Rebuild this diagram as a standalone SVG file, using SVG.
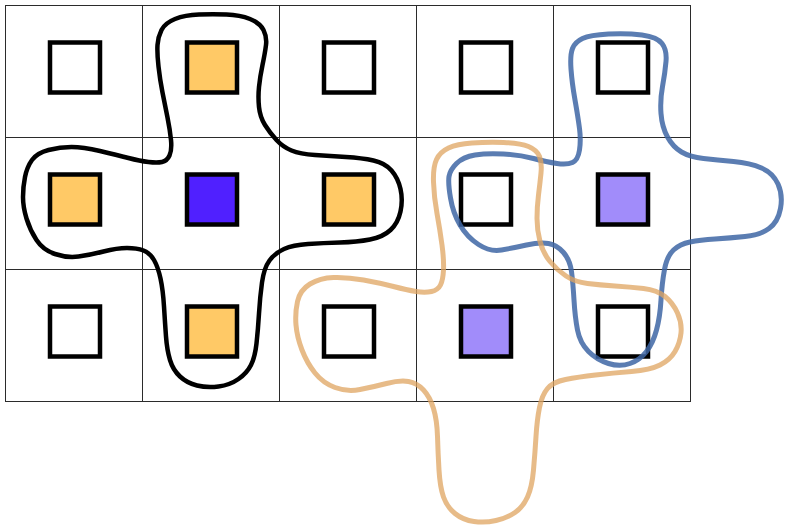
<svg xmlns="http://www.w3.org/2000/svg" width="786" height="527" viewBox="0 0 786 527">
<style>
.cell{fill:none;stroke:#2b2b2b;stroke-width:1}
.sq{stroke:#000;stroke-width:4.5}
.w{fill:#fff}.y{fill:#FFC966}.b{fill:#5020FF}.p{fill:#A18CFA}
.blob{fill:none;stroke-linejoin:round}
.k{stroke:#000;stroke-width:4.5}
.o{stroke:#DFA460;stroke-width:5;stroke-opacity:0.75}
.u{stroke:#3E66A4;stroke-width:5;stroke-opacity:0.85}
</style>
<rect width="786" height="527" fill="#fff"/>
<g id="grid">
<rect class="cell" x="5.5" y="5.5" width="685" height="396"/>
<line class="cell" x1="142.5" y1="5.5" x2="142.5" y2="401.5"/>
<line class="cell" x1="279.5" y1="5.5" x2="279.5" y2="401.5"/>
<line class="cell" x1="416.5" y1="5.5" x2="416.5" y2="401.5"/>
<line class="cell" x1="553.5" y1="5.5" x2="553.5" y2="401.5"/>
<line class="cell" x1="5.5" y1="137.5" x2="690.5" y2="137.5"/>
<line class="cell" x1="5.5" y1="269.5" x2="690.5" y2="269.5"/>
</g>
<g id="c00"><rect class="sq w" x="50" y="42.5" width="50" height="50"/></g>
<g id="c01"><rect class="sq y" x="187" y="42.5" width="50" height="50"/></g>
<g id="c02"><rect class="sq w" x="324" y="42.5" width="50" height="50"/></g>
<g id="c03"><rect class="sq w" x="461" y="42.5" width="50" height="50"/></g>
<g id="c04"><rect class="sq w" x="598" y="42.5" width="50" height="50"/></g>
<g id="c10"><rect class="sq y" x="50" y="174.5" width="50" height="50"/></g>
<g id="c11"><rect class="sq b" x="187" y="174.5" width="50" height="50"/></g>
<g id="c12"><rect class="sq y" x="324" y="174.5" width="50" height="50"/></g>
<g id="c13"><rect class="sq w" x="461" y="174.5" width="50" height="50"/></g>
<g id="c14"><rect class="sq p" x="598" y="174.5" width="50" height="50"/></g>
<g id="c20"><rect class="sq w" x="50" y="306.5" width="50" height="50"/></g>
<g id="c21"><rect class="sq y" x="187" y="306.5" width="50" height="50"/></g>
<g id="c22"><rect class="sq w" x="324" y="306.5" width="50" height="50"/></g>
<g id="c23"><rect class="sq p" x="461" y="306.5" width="50" height="50"/></g>
<g id="c24"><rect class="sq w" x="598" y="306.5" width="50" height="50"/></g>
<g id="connectors">
<path id="blobBlack" class="blob k" d="M199,14.5 Q213,14 226.5,14.5 Q240,15 250,19 Q260,23 263.5,30 Q267,37 266,45 Q265,53 262.5,65 Q260,77 259,87 Q258,97 259,107 Q260,117 265,125 Q270,133 276.5,140 Q283,147 291.5,150.5 Q300,154 315,155 Q330,156 346,157 Q362,158 373.5,160.5 Q385,163 391.5,170.5 Q398,178 400.5,189 Q403,200 400.5,211.5 Q398,223 390.5,230 Q383,237 370,239.5 Q357,242 340,242.5 Q323,243 308,244 Q293,245 284,249 Q275,253 269.5,260.5 Q264,268 262,282.5 Q260,297 259,313.5 Q258,330 256.5,343.5 Q255,357 251,365 Q247,373 238.5,379 Q230,385 218.5,386.5 Q207,388 197,385.5 Q187,383 180,376.5 Q173,370 170,360 Q167,350 166,336.5 Q165,323 164,306.5 Q163,290 160.5,278.5 Q158,267 154,260 Q150,253 143.5,250.5 Q137,248 127,248 Q117,248 103.5,251.5 Q90,255 78.5,256.5 Q67,258 55,254 Q43,250 36.5,240 Q30,230 26.5,218.5 Q23,207 23,197 Q23,187 25,177 Q27,167 32,160 Q37,153 48.5,150 Q60,147 71.5,147 Q83,147 100,151 Q117,155 128.5,158 Q140,161 148.5,162 Q157,163 162,162 Q167,161 169.5,155.5 Q172,150 171,140 Q170,130 167.5,117.5 Q165,105 162.5,92.5 Q160,80 158.5,66.5 Q157,53 157.5,45 Q158,37 161.5,30 Q165,23 175,19 Q185,15 199,14.5 Z"/>
<path id="blobBlue" class="blob u" d="M608.5,34 Q627,33 642,35 Q657,37 662,43.5 Q667,50 666,61.5 Q665,73 662.5,86.5 Q660,100 661,113.5 Q662,127 667.5,137 Q673,147 681.5,152 Q690,157 703.5,158.5 Q717,160 733.5,161.5 Q750,163 761.5,168 Q773,173 778,184 Q783,195 780.5,208.5 Q778,222 769,228.5 Q760,235 745,236.5 Q730,238 715,239 Q700,240 690,242 Q680,244 673.5,250 Q667,256 664.5,269.5 Q662,283 661,300 Q660,317 656.5,330 Q653,343 646.5,351.5 Q640,360 630,363.5 Q620,367 608.5,363.5 Q597,360 588.5,351.5 Q580,343 577.5,330 Q575,317 574,300 Q573,283 571.5,271.5 Q570,260 563.5,252.5 Q557,245 548.5,243.5 Q540,242 526.5,245 Q513,248 501.5,250 Q490,252 478.5,244.5 Q467,237 460,225 Q453,213 450.5,198 Q448,183 449,176.5 Q450,170 456.5,163.5 Q463,157 475,155 Q487,153 503.5,154 Q520,155 533.5,158.5 Q547,162 557,163.5 Q567,165 572.5,162.5 Q578,160 579.5,150 Q581,140 579.5,128.5 Q578,117 575,100 Q572,83 571,69 Q570,55 572.5,48.5 Q575,42 582.5,38.5 Q590,35 608.5,34 Z"/>
<path id="blobOrange" class="blob o" d="M472,143 Q487,142 503.5,142.5 Q520,143 528.5,146.5 Q537,150 539.5,156.5 Q542,163 541,173 Q540,183 538.5,195 Q537,207 537,218.5 Q537,230 540,241.5 Q543,253 550,261.5 Q557,270 566,276 Q575,282 587.5,283.5 Q600,285 615,286 Q630,287 643.5,288.5 Q657,290 665,296.5 Q673,303 677.5,313 Q682,323 681,333 Q680,343 675,351.5 Q670,360 660,365 Q650,370 631.5,371.5 Q613,373 595.5,375 Q578,377 565.5,379.5 Q553,382 547.5,388.5 Q542,395 539.5,407.5 Q537,420 536,436.5 Q535,453 533.5,470 Q532,487 527.5,497 Q523,507 515,512.5 Q507,518 496,520.5 Q485,523 474,521.5 Q463,520 455,513.5 Q447,507 443.5,497 Q440,487 439,470 Q438,453 437.5,436.5 Q437,420 433.5,408.5 Q430,397 423.5,390 Q417,383 408.5,381.5 Q400,380 386.5,383.5 Q373,387 360,389.5 Q347,392 335,387.5 Q323,383 315,373 Q307,363 302,350 Q297,337 296,325 Q295,313 297.5,301.5 Q300,290 310,284 Q320,278 333.5,277.5 Q347,277 363.5,280 Q380,283 393.5,286.5 Q407,290 416,291.5 Q425,293 431.5,291.5 Q438,290 440.5,285 Q443,280 443.5,270 Q444,260 442,245 Q440,230 437,213.5 Q434,197 433.5,182 Q433,167 436.5,159.5 Q440,152 448.5,148 Q457,144 472,143 Z"/>
</g>
</svg>
